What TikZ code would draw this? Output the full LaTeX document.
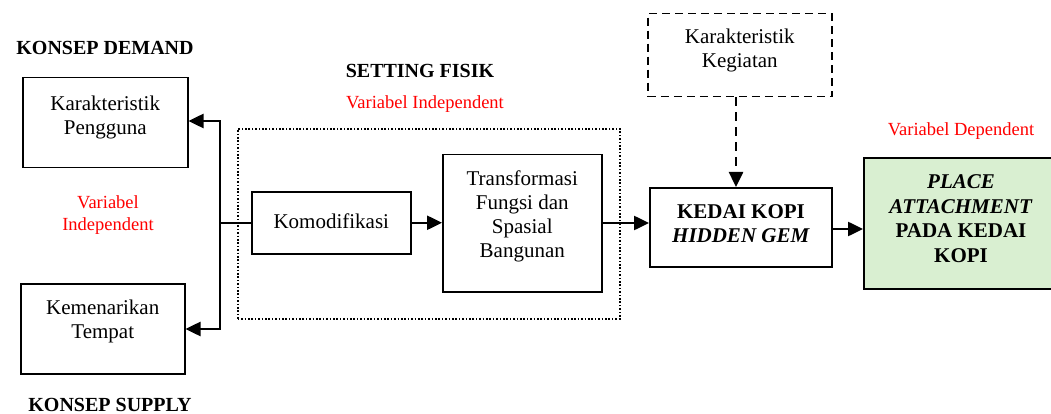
\documentclass[tikz,border=0pt]{standalone}
\usepackage{fontspec}
\setmainfont{Liberation Serif}
\usetikzlibrary{arrows.meta,calc}
\definecolor{paleGreen}{HTML}{D9EFD1}
\definecolor{varRed}{HTML}{FF0000}
\begin{document}
\begin{tikzpicture}[x=1pt,y=-1pt,
  box/.style={draw=black,line width=1.5pt,inner sep=0pt,anchor=north west},
  txt/.style={align=center,font=\fontsize{21}{24}\selectfont,inner sep=0pt},
  btxt/.style={align=center,font=\fontsize{21}{24.5}\selectfont\bfseries,inner sep=0pt},
  title/.style={font=\fontsize{20}{24}\selectfont\bfseries,inner sep=0pt},
  redtxt/.style={align=center,text=varRed,font=\fontsize{18.5}{22}\selectfont,inner sep=0pt},
  arr/.style={line width=2.5pt,-{Triangle[length=15pt,width=14pt]}},
  conn/.style={line width=2.5pt}
]
\useasboundingbox (0,0) rectangle (1051,414);
\clip (0,0) rectangle (1051,414);
\fill[white] (0,0) rectangle (1051,414);

% titles
\node[title] (demand) at (105,48) {KONSEP DEMAND};
\node[title] (supply) at (110,405) {KONSEP SUPPLY};
\node[title] (fisik) at (420,71) {SETTING FISIK};

% red labels
\node[redtxt] (vi1) at (108,215) {Variabel\\Independent};
\node[redtxt] (vi2) at (425,104) {Variabel Independent};
\node[redtxt] (vd) at (961,131) {Variabel Dependent};

% dotted frame
\node[draw=black,line width=1.6pt,dash pattern=on 1.6pt off 1.8pt,inner sep=0pt,anchor=north west,
      minimum width=382pt,minimum height=190pt] (frame) at (237,128) {};

% boxes
\node[box,minimum width=165pt,minimum height=90pt] (peng) at (22,77) {};
\node[txt] (pengt) at ($(peng.center)+(0,-5)$) {Karakteristik\\Pengguna};

\node[box,minimum width=164pt,minimum height=90pt] (tempat) at (20,283) {};
\node[txt] (tempatt) at ($(tempat.center)+(0,-7)$) {Kemenarikan\\Tempat};

\node[box,minimum width=159pt,minimum height=62pt] (komod) at (251,191) {};
\node[txt] (komodt) at ($(komod.center)+(0,-2)$) {Komodifikasi};

\node[box,minimum width=159pt,minimum height=137pt] (transf) at (442,154) {};
\node[txt] (transft) at ($(transf.center)+(0,-7)$) {Transformasi\\Fungsi dan\\Spasial\\Bangunan};

\node[box,line width=2pt,minimum width=182pt,minimum height=79pt] (kedai) at (649,187) {};
\node[btxt] (kedait) at ($(kedai.center)+(0,-4)$) {KEDAI KOPI\\\textit{HIDDEN GEM}};

\node[box,dash pattern=on 8pt off 5pt,minimum width=184pt,minimum height=83pt] (keg) at (647,13) {};
\node[txt] (kegt) at ($(keg.center)+(0,-5)$) {Karakteristik\\Kegiatan};

\node[box,line width=2pt,fill=paleGreen,minimum width=197pt,minimum height=131pt] (attach) at (863,157) {};
\node[btxt] (attacht) at (961,218.5) {\textit{PLACE}\\\textit{ATTACHMENT}\\PADA KEDAI\\KOPI};

% connectors
\coordinate (branch) at (220,222);
\draw[conn] (komod.west) -- (komod.west -| branch);
\draw[arr] (branch) |- (peng.east |- 0,121);
\draw[arr] (branch) |- (tempat.east |- 0,329);
\draw[arr] (komod.east) -- (komod.east -| transf.west);
\draw[arr] (transf.east |- 0,223) -- (kedai.west |- 0,223);
\draw[arr] (kedai.east |- 0,229) -- (attach.west |- 0,229);
\draw[arr,dash pattern=on 9pt off 6pt] (keg.south -| 736,0) -- (kedai.north -| 736,0);
\end{tikzpicture}
\end{document}
